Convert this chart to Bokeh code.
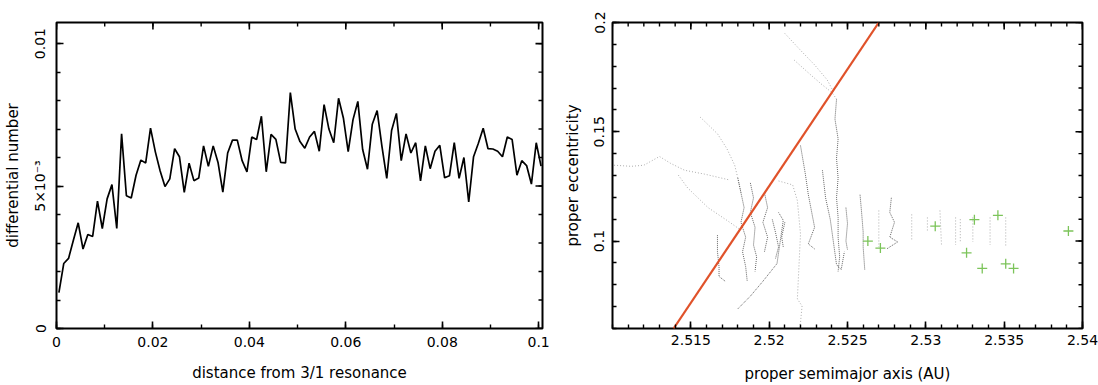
import math
from bokeh.plotting import figure
from bokeh.layouts import row
from bokeh.models import FixedTicker, Range1d
from bokeh.embed import file_html
from bokeh.resources import INLINE

# ---------------- left panel data ----------------
diff_number = [
    0.00126, 0.00228, 0.00246, 0.00310, 0.00371, 0.00279, 0.00330, 0.00323, 0.00447, 0.00351,
    0.00455, 0.00505, 0.00351, 0.00683, 0.00466, 0.00458, 0.00538, 0.00591, 0.00581, 0.00703,
    0.00620, 0.00553, 0.00498, 0.00525, 0.00631, 0.00603, 0.00478, 0.00580, 0.00519, 0.00528,
    0.00641, 0.00569, 0.00641, 0.00583, 0.00479, 0.00616, 0.00661, 0.00661, 0.00589, 0.00550,
    0.00672, 0.00663, 0.00745, 0.00550, 0.00681, 0.00664, 0.00583, 0.00581, 0.00828, 0.00700,
    0.00656, 0.00633, 0.00672, 0.00692, 0.00622, 0.00786, 0.00700, 0.00652, 0.00808, 0.00739,
    0.00621, 0.00733, 0.00797, 0.00628, 0.00559, 0.00717, 0.00765, 0.00639, 0.00527, 0.00695,
    0.00755, 0.00589, 0.00683, 0.00616, 0.00652, 0.00518, 0.00641, 0.00561, 0.00622, 0.00643,
    0.00529, 0.00536, 0.00652, 0.00527, 0.00600, 0.00444, 0.00603, 0.00650, 0.00703, 0.00631,
    0.00630, 0.00622, 0.00603, 0.00672, 0.00663, 0.00538, 0.00589, 0.00572, 0.00507, 0.00652,
    0.00570,
]
bin_width = 0.001
distance = [(i + 0.5) * bin_width for i in range(len(diff_number))]

left_xticks = [0, 0.02, 0.04, 0.06, 0.08, 0.1]
left_xlabels = ["0", "0.02", "0.04", "0.06", "0.08", "0.1"]
left_xminor = [i / 100 for i in range(0, 11)]
left_yticks = [0, 0.005, 0.01]
left_ylabels = ["0", "5×10⁻³", "0.01"]
left_yminor = [i / 1000 for i in range(0, 11)]

# ---------------- right panel data ----------------
green_a = [2.5263, 2.5271, 2.5306, 2.5326, 2.5331, 2.5336, 2.5346, 2.5351, 2.5356, 2.5391]
green_e = [0.1000, 0.0968, 0.1068, 0.0946, 0.1098, 0.0875, 0.1118, 0.0896, 0.0875, 0.1046]

boundary_a = [2.5139, 2.5270]
boundary_e = [0.060, 0.200]

# denser, darker evolution tracks
dark_a = [
    [2.5243, 2.5242, 2.5244, 2.5243, 2.5244, 2.5243, 2.5244, 2.5244, 2.5245, 2.5244],
    [2.5220, 2.5223, 2.5225, 2.5229, 2.5225, 2.5229],
    [2.5234, 2.5236, 2.5239, 2.5241, 2.5243, 2.5246, 2.5248],
    [2.5249, 2.5250, 2.5249, 2.5250],
    [2.5258, 2.5259, 2.5260, 2.5260, 2.5261],
    [2.5278, 2.5277, 2.5280, 2.5277, 2.5282, 2.5275],
    [2.5180, 2.5182, 2.5184, 2.5182, 2.5185, 2.5183, 2.5185, 2.5186],
    [2.5188, 2.5190, 2.5188, 2.5191, 2.5190, 2.5192, 2.5191],
    [2.5197, 2.5199, 2.5196, 2.5199, 2.5197],
    [2.5180, 2.5188, 2.5196, 2.5205, 2.5207, 2.5209, 2.5206],
    [2.5167, 2.5167, 2.5168, 2.5168, 2.5172],
    [2.5202, 2.5204, 2.5206, 2.5204],
    [2.5210, 2.5208, 2.5209],
]
dark_e = [
    [0.1648, 0.1558, 0.1468, 0.1378, 0.1288, 0.1198, 0.1108, 0.1018, 0.0928, 0.0861],
    [0.1437, 0.1311, 0.1212, 0.1063, 0.0987, 0.0964],
    [0.1324, 0.1198, 0.1099, 0.0996, 0.0892, 0.0870, 0.0951],
    [0.1153, 0.1080, 0.1000, 0.0960],
    [0.1212, 0.1131, 0.1041, 0.0973, 0.0870],
    [0.1198, 0.1131, 0.1086, 0.1018, 0.0996, 0.0964],
    [0.1288, 0.1221, 0.1153, 0.1086, 0.1018, 0.0951, 0.0883, 0.0816],
    [0.1266, 0.1198, 0.1131, 0.1063, 0.0982, 0.0928, 0.0861],
    [0.1221, 0.1153, 0.1086, 0.1018, 0.0951],
    [0.0690, 0.0748, 0.0816, 0.0897, 0.0996, 0.1095, 0.1131],
    [0.1027, 0.0951, 0.0883, 0.0838, 0.0816],
    [0.1099, 0.1041, 0.0973, 0.0919],
    [0.1086, 0.1018, 0.0973],
]

# sparse, faint tracks
faint_a = [
    [2.5101, 2.5112, 2.5120, 2.5130, 2.5137, 2.5146, 2.5159, 2.5175],
    [2.5156, 2.5167, 2.5173, 2.5178, 2.5180, 2.5182],
    [2.5210, 2.5220, 2.5229, 2.5237, 2.5241],
    [2.5216, 2.5225, 2.5233, 2.5240, 2.5243],
    [2.5206, 2.5215, 2.5218, 2.5220, 2.5219, 2.5218, 2.5221, 2.5220, 2.5219],
    [2.5142, 2.5148, 2.5161, 2.5173, 2.5182],
    [2.5270, 2.5270],
    [2.5291, 2.5291],
    [2.5301, 2.5301],
    [2.5309, 2.5310],
    [2.5319, 2.5319],
    [2.5322, 2.5322],
    [2.5330, 2.5330],
    [2.5341, 2.5341],
    [2.5351, 2.5351],
]
faint_e = [
    [0.1347, 0.1342, 0.1347, 0.1387, 0.1356, 0.1324, 0.1306, 0.1279],
    [0.1567, 0.1491, 0.1423, 0.1347, 0.1288, 0.1221],
    [0.1950, 0.1873, 0.1806, 0.1738, 0.1684],
    [0.1828, 0.1770, 0.1720, 0.1680, 0.1650],
    [0.1275, 0.1257, 0.1185, 0.1032, 0.0883, 0.0735, 0.0703, 0.0627, 0.0595],
    [0.1302, 0.1243, 0.1153, 0.1095, 0.1050],
    [0.1140, 0.0973],
    [0.1122, 0.1005],
    [0.1108, 0.1041],
    [0.1140, 0.0982],
    [0.1108, 0.0982],
    [0.1100, 0.0990],
    [0.1108, 0.0996],
    [0.1108, 0.0982],
    [0.1108, 0.0973],
]

right_xticks = [2.515, 2.52, 2.525, 2.53, 2.535, 2.54]
right_xlabels = ["2.515", "2.52", "2.525", "2.53", "2.535", "2.54"]
right_xminor = [round(2.51 + i / 1000, 3) for i in range(0, 31)]
right_yticks = [0.1, 0.15, 0.2]
right_ylabels = ["0.1", "0.15", "0.2"]
right_yminor = [round(0.06 + i / 100, 2) for i in range(0, 15)]

FONT = "DejaVu Sans"
MAJ, MIN = 7, 4


def style_axis(ax, ticks, labels, minor, label_text, orient="horizontal", std=8, lab_std=12):
    ax.ticker = FixedTicker(ticks=ticks, minor_ticks=minor)
    ax.major_label_overrides = {t: l for t, l in zip(ticks, labels)}
    ax.axis_line_color = None
    ax.major_tick_in = MAJ
    ax.major_tick_out = 0
    ax.minor_tick_in = MIN
    ax.minor_tick_out = 0
    ax.major_tick_line_color = "black"
    ax.minor_tick_line_color = "black"
    ax.major_tick_line_width = 1.6
    ax.minor_tick_line_width = 1.4
    ax.major_label_text_font = FONT
    ax.major_label_text_font_size = "14px"
    ax.major_label_text_color = "black"
    ax.major_label_standoff = std
    ax.major_label_orientation = orient
    ax.axis_label = label_text
    ax.axis_label_text_font = FONT
    ax.axis_label_text_font_size = "15px"
    ax.axis_label_text_font_style = "normal"
    ax.axis_label_text_color = "black"
    ax.axis_label_standoff = lab_std


def mirror_ticks(p, xticks, xminor, yticks, yminor, xr, yr):
    # inward ticks along the top and right frame edges (clipped to the frame)
    p.scatter(xminor, [yr[1]] * len(xminor), marker="dash", angle=math.pi / 2,
              size=2 * MIN, line_color="black", line_width=1.4)
    p.scatter(xticks, [yr[1]] * len(xticks), marker="dash", angle=math.pi / 2,
              size=2 * MAJ, line_color="black", line_width=1.6)
    p.scatter([xr[1]] * len(yminor), yminor, marker="dash", angle=0,
              size=2 * MIN, line_color="black", line_width=1.4)
    p.scatter([xr[1]] * len(yticks), yticks, marker="dash", angle=0,
              size=2 * MAJ, line_color="black", line_width=1.6)


def make_fig(w, x_rng, y_rng, bl, br, bt, bb):
    p = figure(width=w, height=385, output_backend="svg", toolbar_location=None,
               x_range=Range1d(*x_rng), y_range=Range1d(*y_rng),
               min_border_left=bl, min_border_right=br, min_border_top=bt, min_border_bottom=bb)
    p.xgrid.visible = False
    p.ygrid.visible = False
    p.outline_line_color = "black"
    p.outline_line_width = 2
    p.background_fill_color = "white"
    p.border_fill_color = "white"
    return p


# ---------------- left figure ----------------
xr1, yr1 = (0, 0.1008), (0, 0.01074)
p1 = make_fig(560, xr1, yr1, 53, 18, 10, 54)
p1.line(distance, diff_number, line_color="black", line_width=1.7)
style_axis(p1.xaxis[0], left_xticks, left_xlabels, left_xminor,
           "distance from 3/1 resonance", std=8, lab_std=14)
style_axis(p1.yaxis[0], left_yticks, left_ylabels, left_yminor,
           "differential number", orient="parallel", std=8, lab_std=8)
mirror_ticks(p1, left_xticks, left_xminor, left_yticks, left_yminor, xr1, yr1)

# ---------------- right figure ----------------
xr2, yr2 = (2.51, 2.54), (0.06, 0.2)
p2 = make_fig(538, xr2, yr2, 45, 16, 22, 51)
p2.multi_line(faint_a, faint_e, line_color="#777777", line_width=1.0,
              line_alpha=0.6, line_dash="1 2")
p2.multi_line(dark_a, dark_e, line_color="#333333", line_width=1.0,
              line_alpha=0.75, line_dash="1 1")
p2.line(boundary_a, boundary_e, line_color="#e0522a", line_width=2.2)
p2.scatter(green_a, green_e, marker="cross", size=10, line_color="#7cc45a", line_width=1.3)
style_axis(p2.xaxis[0], right_xticks, right_xlabels, right_xminor,
           "proper semimajor axis (AU)", std=6, lab_std=17)
style_axis(p2.yaxis[0], right_yticks, right_ylabels, right_yminor,
           "proper eccentricity", orient="parallel", std=8, lab_std=10)
mirror_ticks(p2, right_xticks, right_xminor, right_yticks, right_yminor, xr2, yr2)

layout = row(p1, p2)
open("out.html", "w").write(file_html(layout, INLINE))
